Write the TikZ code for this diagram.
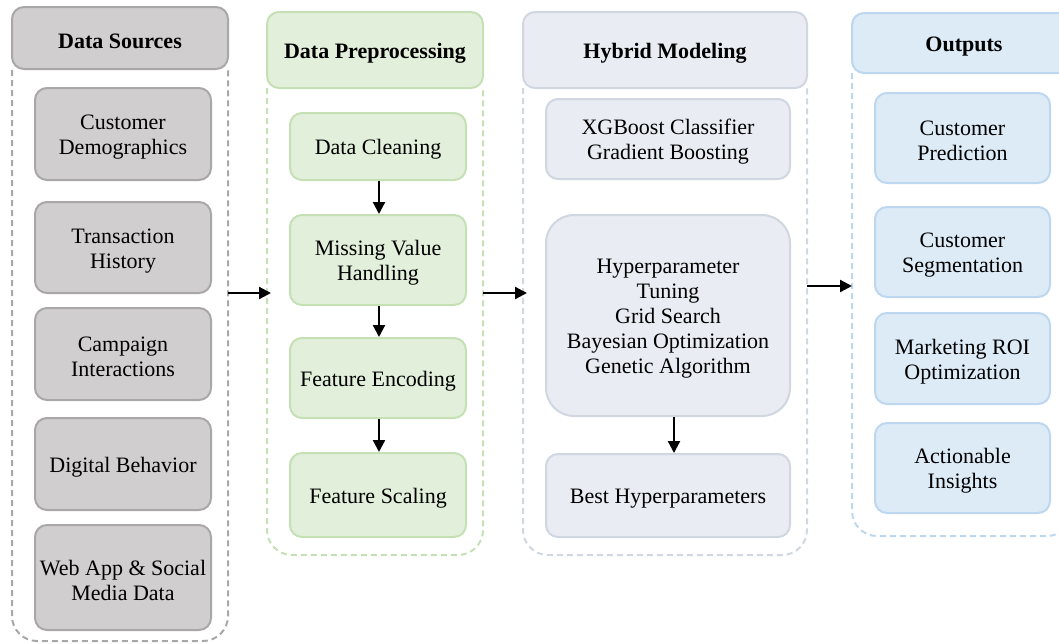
\documentclass[tikz,border=0pt]{standalone}
\usepackage{fontspec}
\setmainfont{Liberation Serif}
\usetikzlibrary{arrows.meta}
\definecolor{gfill}{HTML}{D0CECE}
\definecolor{gline}{HTML}{A9A7A7}
\definecolor{nfill}{HTML}{E2EFDA}
\definecolor{nline}{HTML}{C5E0B4}
\definecolor{sfill}{HTML}{E9ECF2}
\definecolor{sline}{HTML}{D0D7E1}
\definecolor{bfill}{HTML}{DDEBF7}
\definecolor{bline}{HTML}{BDD7EE}
\newcommand{\tup}{\rule{0pt}{21pt}}
\begin{document}
\begin{tikzpicture}[x=1pt,y=-1pt,
  txt/.style={font=\fontsize{22}{25}\selectfont},
  boxbase/.style={draw, line width=2pt, rounded corners=12pt, align=center, inner sep=2pt, txt},
  hdr/.style={boxbase, font=\fontsize{22}{25}\selectfont\bfseries},
  frm/.style={line width=2pt, dash pattern=on 6pt off 4pt},
  gbox/.style={boxbase, fill=gfill, draw=gline},
  nbox/.style={boxbase, fill=nfill, draw=nline},
  sbox/.style={boxbase, fill=sfill, draw=sline},
  bbox/.style={boxbase, fill=bfill, draw=bline},
  arr/.style={line width=2.2pt, -{Triangle[length=12pt,width=12pt]}}
]
\clip (0,0) rectangle (1059,643);

% frames
\draw[frm, draw=gline] (12,70) [rounded corners=25pt] -- (12,641) -- (228,641) -- (228,70);
\draw[frm, draw=nline] (267,88) [rounded corners=25pt] -- (267,555) -- (483,555) -- (483,88);
\draw[frm, draw=sline] (523,88) [rounded corners=25pt] -- (523,555) -- (807,555) -- (807,88);
\draw[frm, draw=bline] (852,73) [rounded corners=25pt] -- (852,536) -- (1072,536) -- (1072,73);

% headers
\node[hdr, fill=gfill, draw=gline, minimum width=216pt, minimum height=62pt] (h1) at (120,38) {\tup Data Sources};
\node[hdr, fill=nfill, draw=nline, minimum width=216pt, minimum height=76pt] (h2) at (375,50) {\tup Data Preprocessing};
\node[hdr, fill=sfill, draw=sline, minimum width=284pt, minimum height=76pt] (h3) at (665,50) {\tup Hybrid Modeling};
\node[hdr, fill=bfill, draw=bline, minimum width=224pt, minimum height=60pt] (h4) at (964,43) {\tup Outputs};

% column 1
\node[gbox, minimum width=176pt, minimum height=92pt] (cd) at (123,134) {\tup Customer\\Demographics};
\node[gbox, minimum width=176pt, minimum height=91pt] (th) at (123,247.5) {\tup Transaction\\History};
\node[gbox, minimum width=176pt, minimum height=92pt] (ci) at (123,354) {\tup Campaign\\Interactions};
\node[gbox, minimum width=176pt, minimum height=92pt] (db) at (123,464) {\tup Digital Behavior};
\node[gbox, minimum width=176pt, minimum height=105pt] (wa) at (123,577.5) {\tup Web App \& Social\\Media Data};

% column 2
\node[nbox, minimum width=176pt, minimum height=67pt] (dc) at (378,146.5) {\tup Data Cleaning};
\node[nbox, minimum width=176pt, minimum height=90pt] (mv) at (378,260) {\tup Missing Value\\Handling};
\node[nbox, minimum width=176pt, minimum height=80pt] (fe) at (378,378) {\tup Feature Encoding};
\node[nbox, minimum width=176pt, minimum height=84pt] (fs) at (378,495) {\tup Feature Scaling};

% column 3
\node[sbox, minimum width=244pt, minimum height=80pt] (xg) at (668,139) {\tup XGBoost Classifier\\Gradient Boosting};
\node[sbox, rounded corners=28pt, minimum width=244pt, minimum height=201pt] (hp) at (668,315.5) {\tup Hyperparameter\\Tuning\\Grid Search\\Bayesian Optimization\\Genetic Algorithm};
\node[sbox, minimum width=244pt, minimum height=83pt] (bh) at (668,495.5) {\tup Best Hyperparameters};

% column 4
\node[bbox, minimum width=175pt, minimum height=90pt] (cp) at (962.5,138) {\tup Customer\\Prediction};
\node[bbox, minimum width=175pt, minimum height=90pt] (cs) at (962.5,252) {\tup Customer\\Segmentation};
\node[bbox, minimum width=175pt, minimum height=91pt] (mr) at (962.5,358.5) {\tup Marketing ROI\\Optimization};
\node[bbox, minimum width=175pt, minimum height=90pt] (ai) at (962.5,468) {\tup Actionable\\Insights};

% connector end points on frames
\coordinate (f1r) at (228,293);
\coordinate (f2l) at (271,293);
\coordinate (f2r) at (483,293);
\coordinate (f3l) at (527,293);
\coordinate (f3r) at (807,286);
\coordinate (f4l) at (852,286);

\draw[arr] (f1r) -- (f2l);
\draw[arr] (f2r) -- (f3l);
\draw[arr] (f3r) -- (f4l);

\draw[arr] ([xshift=1pt]dc.south) -- ([xshift=1pt]mv.north);
\draw[arr] ([xshift=1pt]mv.south) -- ([xshift=1pt]fe.north);
\draw[arr] ([xshift=1pt]fe.south) -- ([xshift=1pt]fs.north);
\draw[arr] ([xshift=6pt]hp.south) -- ([xshift=6pt]bh.north);
\end{tikzpicture}
\end{document}
